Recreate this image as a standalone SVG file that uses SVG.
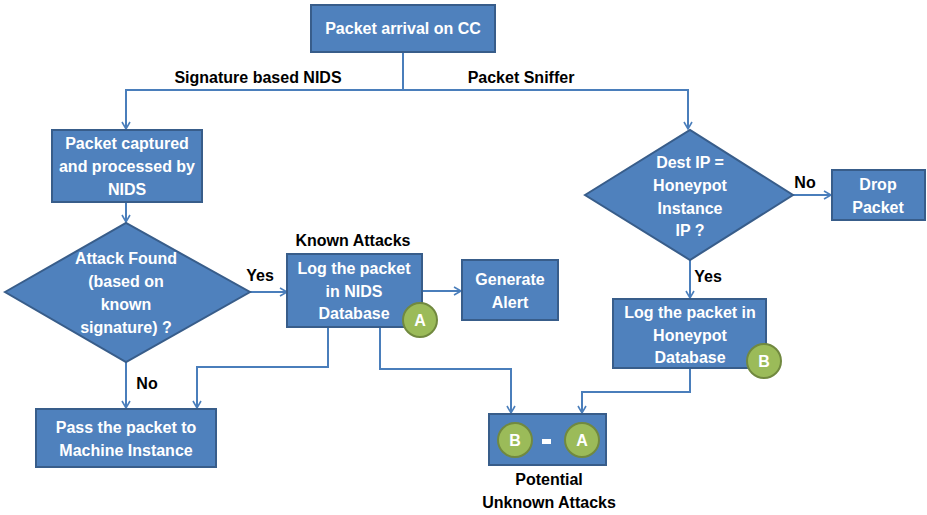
<svg xmlns="http://www.w3.org/2000/svg" width="927" height="515" viewBox="0 0 927 515">
<defs>
<marker id="ah" markerWidth="10" markerHeight="10" refX="8" refY="5" orient="auto" markerUnits="userSpaceOnUse">
<path d="M1,1 L8,5 L1,9" fill="none" stroke="#4A7EBB" stroke-width="1.6"/>
</marker>
<style>
.box{fill:#4F81BD;stroke:#385D8A;stroke-width:2}
.circ{fill:#9BBB59;stroke:#71893F;stroke-width:2}
.t{font-family:"Liberation Sans",Arial,sans-serif;font-weight:bold;font-size:16px;fill:#fff;text-anchor:middle}
.l{font-family:"Liberation Sans",Arial,sans-serif;font-weight:bold;font-size:16px;fill:#000;text-anchor:middle}
.c{fill:none;stroke:#4A7EBB;stroke-width:2}
.ca{fill:none;stroke:#4A7EBB;stroke-width:2;marker-end:url(#ah)}
</style>
</defs>
<rect width="927" height="515" fill="#fff"/>
<g id="connectors">
<path class="c" d="M403,52 V90"/>
<path class="ca" d="M403,90 H126 V129"/>
<path class="ca" d="M403,90 H688 V129"/>
<path class="ca" d="M126,202 V222"/>
<path class="ca" d="M250,292 H287"/>
<path class="ca" d="M126,362 V408"/>
<path class="ca" d="M422,291 H461"/>
<path class="ca" d="M328,327 V367 H197 V408"/>
<path class="ca" d="M380,327 V369 H511 V413"/>
<path class="ca" d="M793,195 H831"/>
<path class="ca" d="M690,260 V298"/>
<path class="ca" d="M690,368 V392 H582 V413"/>
</g>
<g id="labels">
<text class="l" x="258" y="83">Signature based NIDS</text>
<text class="l" x="521" y="83">Packet Sniffer</text>
<text class="l" x="260" y="281">Yes</text>
<text class="l" x="353" y="246">Known Attacks</text>
<text class="l" x="147" y="389">No</text>
<text class="l" x="805" y="188">No</text>
<text class="l" x="708" y="282">Yes</text>
<text class="l" x="549" y="485">Potential</text>
<text class="l" x="549" y="508">Unknown Attacks</text>
</g>
<g id="n_arrival">
<rect class="box" x="311" y="5" width="184" height="47"/>
<text class="t" x="403" y="34">Packet arrival on CC</text>
</g>
<g id="n_captured">
<rect class="box" x="52" y="130" width="150" height="72"/>
<text class="t" x="127" y="149">Packet captured</text>
<text class="t" x="127" y="172">and processed by</text>
<text class="t" x="127" y="195">NIDS</text>
</g>
<g id="n_attack">
<polygon class="box" points="5,292 126,223 250,292 126,362"/>
<text class="t" x="126" y="264">Attack Found</text>
<text class="t" x="126" y="287">(based on</text>
<text class="t" x="126" y="310">known</text>
<text class="t" x="126" y="333">signature) ?</text>
</g>
<g id="n_lognids">
<rect class="box" x="287" y="254" width="135" height="73"/>
<text class="t" x="354" y="274">Log the packet</text>
<text class="t" x="354" y="297">in NIDS</text>
<text class="t" x="354" y="319">Database</text>
<circle class="circ" cx="420" cy="320" r="17"/>
<text class="t" x="420" y="326">A</text>
</g>
<g id="n_alert">
<rect class="box" x="462" y="260" width="96" height="60"/>
<text class="t" x="510" y="285">Generate</text>
<text class="t" x="510" y="308">Alert</text>
</g>
<g id="n_pass">
<rect class="box" x="36" y="409" width="180" height="58"/>
<text class="t" x="126" y="433">Pass the packet to</text>
<text class="t" x="126" y="456">Machine Instance</text>
</g>
<g id="n_dest">
<polygon class="box" points="585,195 690,130 793,195 690,260"/>
<text class="t" x="690" y="168">Dest IP =</text>
<text class="t" x="690" y="191">Honeypot</text>
<text class="t" x="690" y="214">Instance</text>
<text class="t" x="690" y="236">IP ?</text>
</g>
<g id="n_drop">
<rect class="box" x="832" y="170" width="93" height="50"/>
<text class="t" x="878" y="190">Drop</text>
<text class="t" x="878" y="213">Packet</text>
</g>
<g id="n_loghp">
<rect class="box" x="613" y="299" width="153" height="69"/>
<text class="t" x="690" y="318">Log the packet in</text>
<text class="t" x="690" y="341">Honeypot</text>
<text class="t" x="690" y="363">Database</text>
<circle class="circ" cx="764" cy="361" r="17"/>
<text class="t" x="764" y="367">B</text>
</g>
<g id="n_diff">
<rect class="box" x="489" y="414" width="117" height="51"/>
<circle class="circ" cx="515" cy="440" r="17"/>
<text class="t" x="515" y="446">B</text>
<rect x="542" y="439" width="9" height="5" fill="#fff"/>
<circle class="circ" cx="582" cy="440" r="17"/>
<text class="t" x="582" y="446">A</text>
</g>
</svg>
